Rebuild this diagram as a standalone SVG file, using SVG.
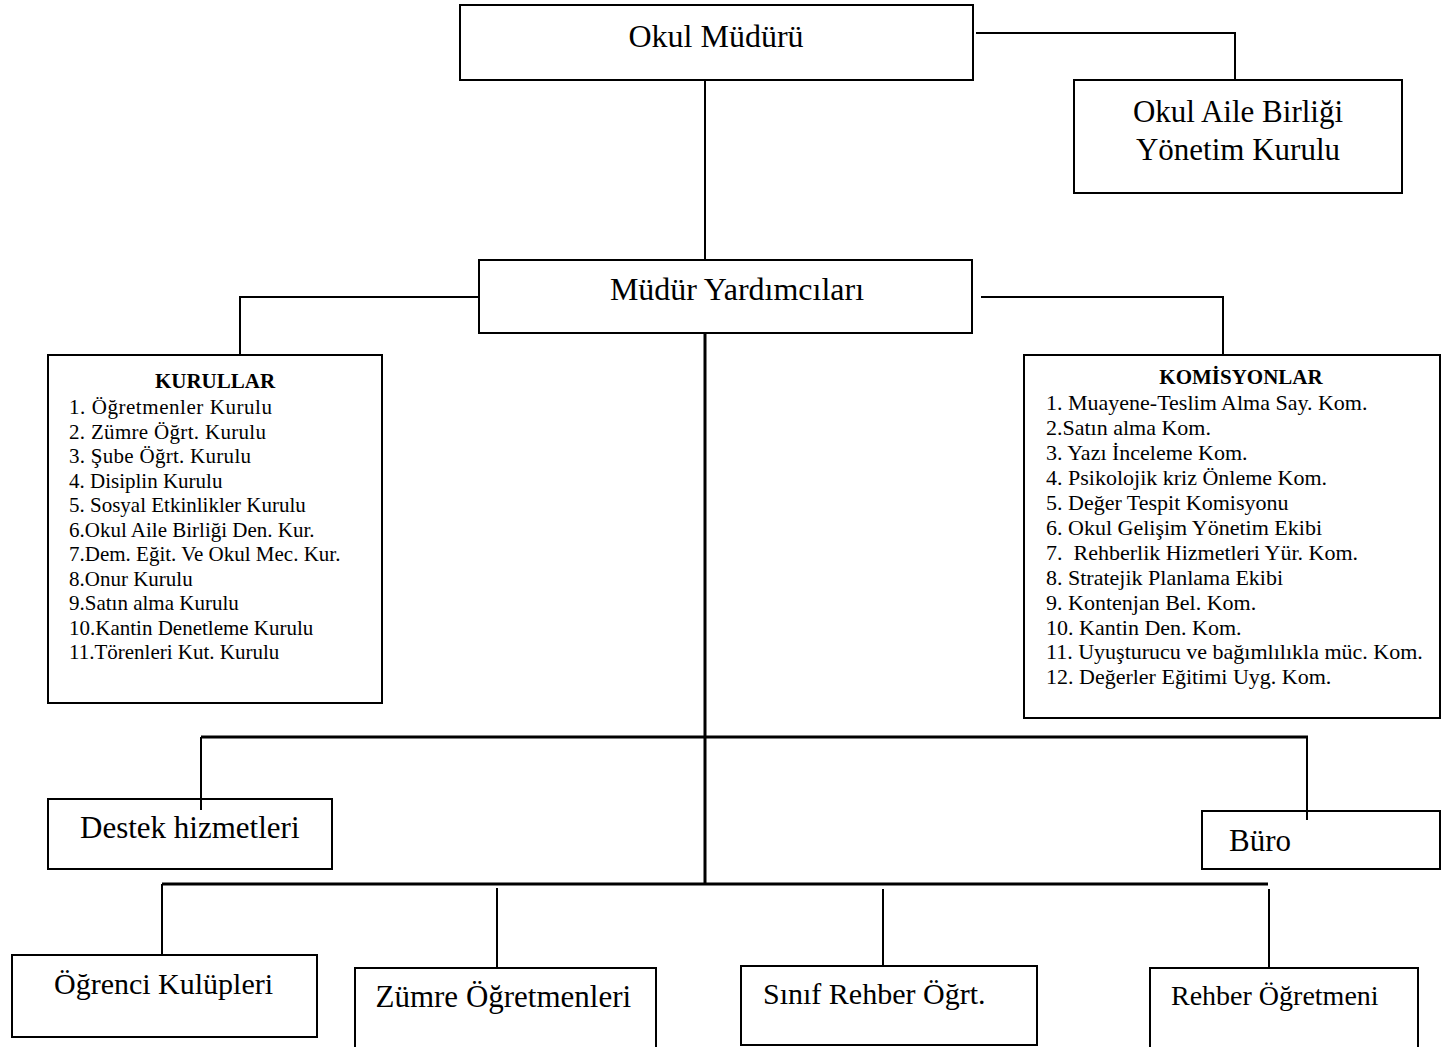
<svg xmlns="http://www.w3.org/2000/svg" width="1442" height="1047" viewBox="0 0 1442 1047">
<style>
.box{fill:#fff;stroke:#000;stroke-width:2}
.ln{fill:none;stroke:#000;stroke-width:2}
.trunk{fill:none;stroke:#000;stroke-width:3}
text{font-family:"Liberation Serif","Times New Roman",serif;fill:#000}
.big{font-size:32px}
.mid{text-anchor:middle}
.list{font-size:21px;white-space:pre}
.list2{font-size:22px;white-space:pre}
.title{font-size:21px;font-weight:bold;text-anchor:middle}
</style>
<rect width="1442" height="1047" fill="#fff"/>
<g id="connectors">
<path class="ln" d="M705,80 V260"/>
<path class="ln" d="M976,33 H1235 V80"/>
<path class="ln" d="M479,297 H240 V355"/>
<path class="ln" d="M981,297 H1223 V355"/>
<path class="trunk" d="M705,333 V884"/>
<path class="trunk" d="M201,737 H1308"/>
<path class="ln" d="M201,737 V810"/>
<path class="ln" d="M1307,737 V820"/>
<path class="trunk" d="M162,884 H1268"/>
<path class="ln" d="M162,884 V955"/>
<path class="ln" d="M497,888 V968"/>
<path class="ln" d="M883,889 V968"/>
<path class="ln" d="M1269,889 V968"/>
</g>
<g id="okul-muduru">
<rect class="box" x="460" y="5" width="513" height="75"/>
<text class="big mid" x="716" y="47">Okul Müdürü</text>
</g>
<g id="okul-aile-birligi">
<rect class="box" x="1074" y="80" width="328" height="113"/>
<text class="mid" x="1238" y="122" font-size="31">Okul Aile Birliği</text>
<text class="mid" x="1238" y="160" font-size="31">Yönetim Kurulu</text>
</g>
<g id="mudur-yardimcilari">
<rect class="box" x="479" y="260" width="493" height="73"/>
<text class="big mid" x="737" y="300">Müdür Yardımcıları</text>
</g>
<g id="kurullar">
<rect class="box" x="48" y="355" width="334" height="348"/>
<text class="title" x="215" y="388">KURULLAR</text>
<text class="list" x="69" y="414.3" textLength="203">1. Öğretmenler Kurulu</text>
<text class="list" x="69" y="438.8" textLength="197">2. Zümre Öğrt. Kurulu</text>
<text class="list" x="69" y="463.3" textLength="182">3. Şube Öğrt. Kurulu</text>
<text class="list" x="69" y="487.8">4. Disiplin Kurulu</text>
<text class="list" x="69" y="512.3">5. Sosyal Etkinlikler Kurulu</text>
<text class="list" x="69" y="536.8">6.Okul Aile Birliği Den. Kur.</text>
<text class="list" x="69" y="561.3">7.Dem. Eğit. Ve Okul Mec. Kur.</text>
<text class="list" x="69" y="585.8">8.Onur Kurulu</text>
<text class="list" x="69" y="610.3">9.Satın alma Kurulu</text>
<text class="list" x="69" y="634.8">10.Kantin Denetleme Kurulu</text>
<text class="list" x="69" y="659.3">11.Törenleri Kut. Kurulu</text>
</g>
<g id="komisyonlar">
<rect class="box" x="1024" y="355" width="416" height="363"/>
<text class="title" x="1241" y="384">KOMİSYONLAR</text>
<text class="list2" x="1046" y="410">1. Muayene-Teslim Alma Say. Kom.</text>
<text class="list2" x="1046" y="434.9">2.Satın alma Kom.</text>
<text class="list2" x="1046" y="459.9">3. Yazı İnceleme Kom.</text>
<text class="list2" x="1046" y="484.8">4. Psikolojik kriz Önleme Kom.</text>
<text class="list2" x="1046" y="509.8">5. Değer Tespit Komisyonu</text>
<text class="list2" x="1046" y="534.7">6. Okul Gelişim Yönetim Ekibi</text>
<text class="list2" x="1046" y="559.6">7.  Rehberlik Hizmetleri Yür. Kom.</text>
<text class="list2" x="1046" y="584.6">8. Stratejik Planlama Ekibi</text>
<text class="list2" x="1046" y="609.5">9. Kontenjan Bel. Kom.</text>
<text class="list2" x="1046" y="634.5">10. Kantin Den. Kom.</text>
<text class="list2" x="1046" y="659.4">11. Uyuşturucu ve bağımlılıkla müc. Kom.</text>
<text class="list2" x="1046" y="684.3">12. Değerler Eğitimi Uyg. Kom.</text>
</g>
<g id="destek-hizmetleri">
<rect class="box" x="48" y="799" width="284" height="70" style="fill:none"/>
<text x="80" y="838" font-size="31">Destek hizmetleri</text>
</g>
<g id="buro">
<rect class="box" x="1202" y="811" width="238" height="58" style="fill:none"/>
<text x="1229" y="851" font-size="31">Büro</text>
</g>
<g id="ogrenci-kulupleri">
<rect class="box" x="12" y="955" width="305" height="82"/>
<text x="54" y="994" font-size="30">Öğrenci Kulüpleri</text>
</g>
<g id="zumre-ogretmenleri">
<path class="ln" d="M355,1048 V968 H656 V1048"/>
<text x="375.5" y="1007" font-size="31">Zümre Öğretmenleri</text>
</g>
<g id="sinif-rehber">
<rect class="box" x="741" y="966" width="296" height="79"/>
<text x="763" y="1004" font-size="30">Sınıf Rehber Öğrt.</text>
</g>
<g id="rehber-ogretmeni">
<path class="ln" d="M1150,1048 V968 H1418 V1048"/>
<text x="1171" y="1005" font-size="28">Rehber Öğretmeni</text>
</g>
</svg>
